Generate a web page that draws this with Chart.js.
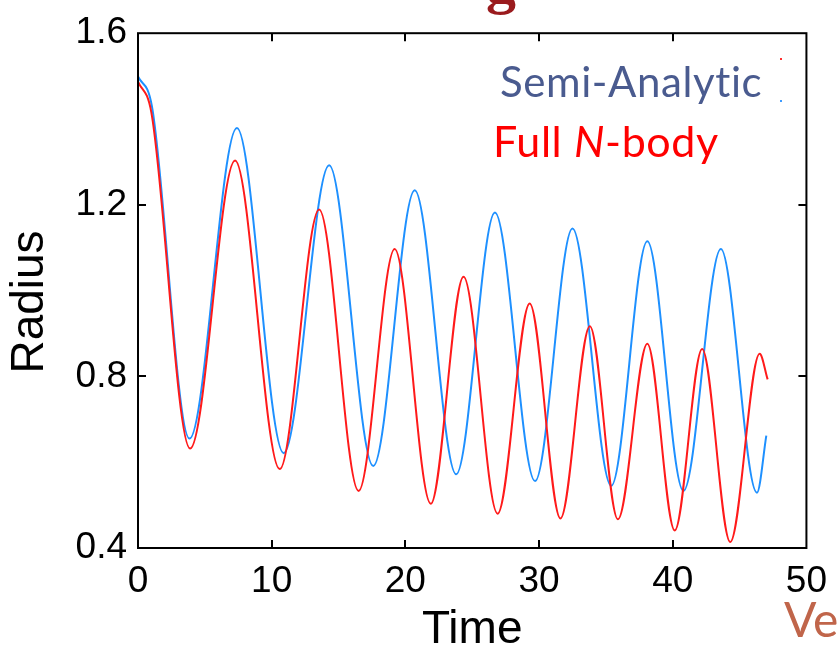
<!DOCTYPE html>
<html>
<head>
<meta charset="utf-8">
<script src="https://cdn.jsdelivr.net/npm/chart.js@4.4.1/dist/chart.umd.min.js"></script>
<style>
  html, body { margin: 0; padding: 0; background: #fff; }
  #wrap { width: 839px; height: 653px; }
</style>
</head>
<body>
<div id="wrap"><canvas id="radiusChart" width="839" height="653"></canvas></div>
<script>
// semi-analytic model (blue): start, turning points, end
const semiTime = [0, 1.04, 3.85, 7.4, 10.9, 14.3, 17.6, 20.7, 23.8, 26.7, 29.7, 32.5, 35.4, 38.1,
  40.8, 43.6, 46.3, 47.0];
const semiRadius = [1.499, 1.43, 0.655, 1.379, 0.621, 1.292, 0.591, 1.234, 0.572, 1.182, 0.556, 1.145, 0.545, 1.115,
  0.533, 1.097, 0.529, 0.662];

// full N-body run (red)
const nbodyTime = [0, 1.0, 3.9, 7.26, 10.6, 13.55, 16.5, 19.2, 21.9, 24.35, 26.9, 29.3, 31.6, 33.8,
  35.9, 38.1, 40.15, 42.2, 44.3, 46.5, 47.1];
const nbodyRadius = [1.487, 1.415, 0.632, 1.303, 0.584, 1.189, 0.533, 1.097, 0.503, 1.032, 0.480, 0.970, 0.469, 0.917,
  0.467, 0.876, 0.441, 0.864, 0.414, 0.853, 0.793];

const timeRange = [0, 50];
const timeStep = 10;
const radiusRange = [0.4, 1.6];
const radiusStep = 0.4;

const seriesNames = ['Semi-Analytic', 'Full N-body'];

const toPoints = (xs, ys) => xs.map((x, i) => ({ x: x, y: ys[i] }));

// box round the plot, with short ticks pointing inwards on all four sides
const frame = {
    id: 'frame',
    afterDatasetsDraw(chart) {
        const { ctx, chartArea: a, scales: { x, y } } = chart;
        ctx.save();
        ctx.strokeStyle = '#000';
        ctx.lineWidth = 2;
        ctx.beginPath();
        x.ticks.forEach(t => {
            if (t.value <= x.min || t.value >= x.max) return;
            const px = Math.round(x.getPixelForValue(t.value));
            ctx.moveTo(px, a.bottom); ctx.lineTo(px, a.bottom - 8);
            ctx.moveTo(px, a.top); ctx.lineTo(px, a.top + 8);
        });
        y.ticks.forEach(t => {
            if (t.value <= y.min + 1e-9 || t.value >= y.max - 1e-9) return;
            const py = Math.round(y.getPixelForValue(t.value));
            ctx.moveTo(a.left, py); ctx.lineTo(a.left + 8, py);
            ctx.moveTo(a.right, py); ctx.lineTo(a.right - 8, py);
        });
        ctx.stroke();
        ctx.strokeRect(a.left, a.top, a.right - a.left, a.bottom - a.top);
        ctx.restore();
    }
};

// legend text, rotated y title and the bits of slide text that show round the edges
const notes = {
    id: 'notes',
    afterDraw(chart) {
        const ctx = chart.ctx;
        ctx.save();
        ctx.textBaseline = 'alphabetic';
        ctx.letterSpacing = '0.6px';

        ctx.fillStyle = '#4a5b8f';
        ctx.font = '42px Lato';
        ctx.fillText(seriesNames[0], 500, 97);

        ctx.fillStyle = '#ff0000';
        let x = 493;
        ctx.font = '43px Lato';
        ctx.fillText('Full ', x, 157);
        x += ctx.measureText('Full ').width;
        ctx.font = 'italic 43px Lato';
        ctx.fillText('N', x, 157);
        x += ctx.measureText('N').width;
        ctx.font = '43px Lato';
        ctx.fillText('-body', x, 157);
        ctx.letterSpacing = '0px';

        // leftover legend line stubs
        ctx.fillStyle = '#ff3030';
        ctx.fillRect(780, 58, 2, 2);
        ctx.fillStyle = '#3d9bff';
        ctx.fillRect(780, 100, 2, 2);

        ctx.fillStyle = '#000';
        ctx.font = '46px "Liberation Sans"';
        ctx.textAlign = 'center';
        ctx.textBaseline = 'middle';
        ctx.translate(30, 302);
        ctx.rotate(-Math.PI / 2);
        ctx.fillText('Radius', 0, 0);
        ctx.setTransform(1, 0, 0, 1, 0, 0);

        ctx.textAlign = 'left';
        ctx.textBaseline = 'alphabetic';
        ctx.fillStyle = '#c0654a';
        ctx.font = '48px Lato';
        ctx.fillText('Ve', 784, 637);

        ctx.fillStyle = '#9a1b1e';
        ctx.font = 'bold 60px "Liberation Serif"';
        ctx.fillText('g', 486, 2);
        ctx.restore();
    }
};

const ctx1 = document.getElementById('radiusChart').getContext('2d');

const radiusChart = new Chart(ctx1, {
    type: 'line',
    data: {
        datasets: [{
            label: seriesNames[1],
            data: toPoints(nbodyTime, nbodyRadius),
            borderColor: '#ff1a1a',
            borderWidth: 2,
            pointRadius: 0,
            cubicInterpolationMode: 'monotone',
            fill: false
        }, {
            label: seriesNames[0],
            data: toPoints(semiTime, semiRadius),
            borderColor: '#1e90ff',
            borderWidth: 2,
            pointRadius: 0,
            cubicInterpolationMode: 'monotone',
            fill: false
        }]
    },
    options: {
        responsive: false,
        animation: false,
        layout: { padding: { top: 26, right: 27, left: 0, bottom: 0 } },
        plugins: {
            legend: { display: false },
            tooltip: { enabled: false }
        },
        scales: {
            x: {
                type: 'linear',
                min: timeRange[0],
                max: timeRange[1],
                grid: { display: false, drawTicks: false },
                border: { display: false },
                ticks: {
                    stepSize: timeStep,
                    color: '#000',
                    padding: 12,
                    maxRotation: 0,
                    font: { family: 'Liberation Sans', size: 37 }
                },
                title: {
                    display: true,
                    text: 'Time',
                    color: '#000',
                    padding: 0,
                    font: { family: 'Liberation Sans', size: 46, lineHeight: 1 }
                },
                afterFit: s => { s.height = 105; }
            },
            y: {
                min: radiusRange[0],
                max: radiusRange[1],
                grid: { display: false, drawTicks: false },
                border: { display: false },
                ticks: {
                    stepSize: radiusStep,
                    color: '#000',
                    padding: 11,
                    font: { family: 'Liberation Sans', size: 37 },
                    callback: v => v.toFixed(1)
                },
                afterFit: s => { s.width = 138; }
            }
        }
    },
    plugins: [frame, notes]
});
</script>
</body>
</html>
